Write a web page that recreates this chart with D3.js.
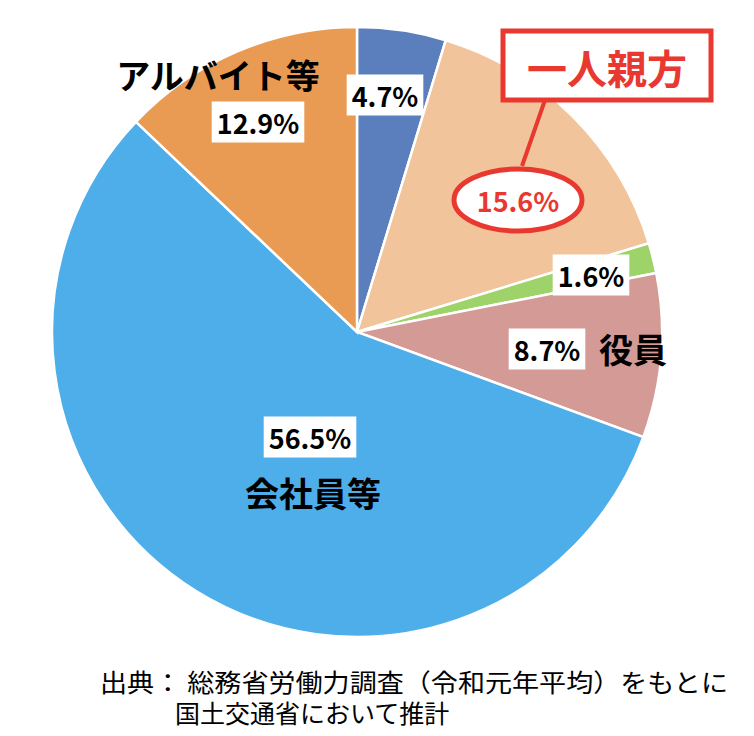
<!DOCTYPE html>
<html><head><meta charset="utf-8">
<script src="https://cdn.jsdelivr.net/npm/d3@7"></script>
<style>body{margin:0;background:#fff;font-family:"Noto Sans CJK JP","Noto Sans",sans-serif}</style>
</head><body><svg id="chart" width="754" height="736"></svg>
<script>
const categories = ["その他", "一人親方", "その他2", "役員", "会社員等", "アルバイト等"];
const shares = [4.7, 15.6, 1.6, 8.7, 56.5, 12.9];
const colors = ["#5b7fbd", "#f2c49c", "#9ed36a", "#d39a96", "#4eaeea", "#e99b53"];
const pctLabels = ["4.7%", "15.6%", "1.6%", "8.7%", "56.5%", "12.9%"];

const svg = d3.select("#chart");
const cx = 357, cy = 332, r = 305;
const g = svg.append("g").attr("transform", `translate(${cx},${cy})`);
const pie = d3.pie().sort(null).value(d => d)(shares);
const arc = d3.arc().innerRadius(0).outerRadius(r);
g.selectAll("path").data(pie).enter().append("path")
  .attr("d", arc).attr("fill", (d, i) => colors[i])
  .attr("stroke", "#fff").attr("stroke-width", 2.5);

// label positions (offsets from centre)
const pos = [[28, -237], [161, -132], [234, -57], [190, 17], [-47, 105], [-99, -210]];
function boxLabel(x, y, txt, col, withBox) {
  const t = svg.append("text").attr("x", x).attr("y", y).attr("text-anchor", "middle")
    .attr("dominant-baseline", "central").attr("font-size", 27).attr("font-weight", "bold")
    .attr("fill", col).text(txt);
  if (withBox) {
    const b = t.node().getBBox();
    svg.insert("rect", "text").attr("x", b.x - 5).attr("y", b.y - 1)
      .attr("width", b.width + 10).attr("height", b.height + 2).attr("fill", "#fff");
  }
}
pos.forEach((p, i) => {
  if (i === 1) return;
  boxLabel(cx + p[0], cy + p[1], pctLabels[i], "#000", true);
});
// 15.6% with red ellipse
svg.append("ellipse").attr("cx", cx + 161).attr("cy", cy - 132).attr("rx", 64).attr("ry", 31)
  .attr("fill", "#fff").attr("stroke", "#e8382f").attr("stroke-width", 5);
boxLabel(cx + 161, cy - 132, pctLabels[1], "#e8382f", false);
// callout
svg.append("line").attr("x1", 545).attr("y1", 100).attr("x2", 522).attr("y2", 166)
  .attr("stroke", "#e8382f").attr("stroke-width", 4);
svg.append("rect").attr("x", 503).attr("y", 31).attr("width", 208).attr("height", 69)
  .attr("fill", "#fff").attr("stroke", "#e8382f").attr("stroke-width", 5);
svg.append("text").attr("x", 607).attr("y", 67).attr("text-anchor", "middle")
  .attr("dominant-baseline", "central").attr("font-size", 40).attr("font-weight", "bold")
  .attr("fill", "#e8382f").text("一人親方");

const names = [["役員", 633, 348], ["会社員等", 313, 492], ["アルバイト等", 218, 74]];
names.forEach(n => svg.append("text").attr("x", n[1]).attr("y", n[2]).attr("text-anchor", "middle")
  .attr("dominant-baseline", "central").attr("font-size", 34).attr("font-weight", "bold").text(n[0]));

svg.append("text").attr("x", 100).attr("y", 681).attr("font-size", 25).attr("dominant-baseline", "central")
  .attr("textLength", 628).attr("lengthAdjust", "spacingAndGlyphs")
  .text("出典：  総務省労働力調査（令和元年平均）をもとに");
svg.append("text").attr("x", 175).attr("y", 712).attr("font-size", 25).attr("dominant-baseline", "central")
  .text("国土交通省において推計");
</script></body></html>
